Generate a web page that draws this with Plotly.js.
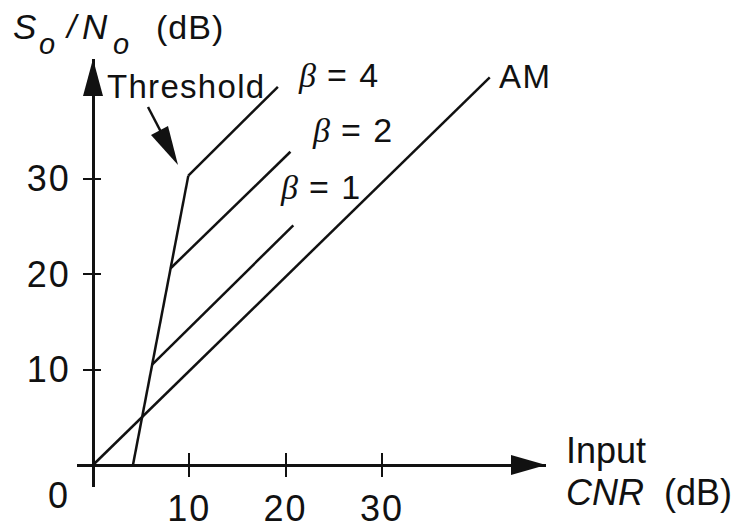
<!DOCTYPE html>
<html><head><meta charset="utf-8">
<script src="https://cdn.plot.ly/plotly-3.0.1.min.js"></script>
<style>html,body{margin:0;padding:0;background:#fff}#chart{width:737px;height:529px}</style>
</head><body><div id="chart"></div>
<script>
// ---- data (dB values) ----
const amX = [0, 41.2];
const amY = [0, 40.6];
const thresholdX = [4.15, 9.9];
const thresholdY = [0, 30.3];
const beta4X = [9.9, 19.2];
const beta4Y = [30.3, 39.6];
const beta2X = [8.06, 20.5];
const beta2Y = [20.6, 32.8];
const beta1X = [6.14, 20.8];
const beta1Y = [10.5, 25.1];
const xTickVals = [10, 20, 30];
const xTickText = ['10', '20', '30'];
const yTickVals = [10, 20, 30];
const yTickText = ['10', '20', '30'];

// ---- geometry ----
const W = 737, H = 529;
const L = 77, R = 546, T = 59, B = 487;
const X0 = 93, Y0 = 465, SX = 9.63, SY = 9.55;
const xRange = [(L - X0) / SX, (R - X0) / SX];
const yRange = [(Y0 - B) / SY, (Y0 - T) / SY];
function px(p) { return (p - X0) / SX; }
function py(p) { return (Y0 - p) / SY; }
function qx(p) { return (p - L) / (R - L); }
function qy(p) { return (B - p) / (B - T); }

const INK = '#111';
const FONT = 'Liberation Sans, Arial, sans-serif';
const LW = 2.5;
function spaced(t, s) { return '<span style="letter-spacing:' + s + 'px">' + t + '</span>'; }

function lineTrace(x, y) {
  return {x: x, y: y, mode: 'lines', line: {color: INK, width: LW}, hoverinfo: 'skip', showlegend: false};
}
const traces = [
  lineTrace(amX, amY),
  lineTrace(thresholdX, thresholdY),
  lineTrace(beta4X, beta4Y),
  lineTrace(beta2X, beta2Y),
  lineTrace(beta1X, beta1Y),
  {x: [amX[0]], y: [amY[0]], xaxis: 'x2', yaxis: 'y2', mode: 'markers', marker: {opacity: 0}, hoverinfo: 'skip', showlegend: false}
];

const tickFont = {family: FONT, size: 36, color: INK};
const xPos = (B - Y0) / (B - T);
const yPos = (X0 - L) / (R - L);

function ann(text, xpix, ypix, xanchor, yanchor, size) {
  return {text: text, xref: 'paper', yref: 'paper', x: qx(xpix), y: qy(ypix),
    xanchor: xanchor, yanchor: yanchor, showarrow: false, borderpad: 0,
    font: {family: FONT, size: size || 33, color: INK}};
}
const betaSym = "<span style=\"font-family:'Liberation Serif', 'Times New Roman', serif\"><i>β</i></span>";

const layout = {
  width: W, height: H,
  margin: {l: L, r: W - R, t: T, b: H - B, pad: 0},
  paper_bgcolor: '#fff', plot_bgcolor: 'rgba(0,0,0,0)',
  showlegend: false,
  xaxis: {domain: [0, 1], range: xRange, anchor: 'free', position: xPos,
    showline: true, linecolor: INK, linewidth: LW, showgrid: false, zeroline: false,
    ticks: 'outside', ticklen: 10, tickwidth: 2, tickcolor: INK,
    tickmode: 'array', tickvals: xTickVals, ticktext: xTickText.map(t => spaced(t, 2)), tickfont: tickFont,
    ticklabelstandoff: 1, fixedrange: true},
  xaxis2: {overlaying: 'x', range: xRange, anchor: 'free', position: xPos, side: 'bottom',
    showline: false, showgrid: false, zeroline: false,
    ticks: 'inside', ticklen: 12, tickwidth: 2, tickcolor: INK,
    tickmode: 'array', tickvals: xTickVals, showticklabels: false, fixedrange: true},
  yaxis: {domain: [0, 1], range: yRange, anchor: 'free', position: yPos,
    showline: true, linecolor: INK, linewidth: LW, showgrid: false, zeroline: false,
    ticks: 'outside', ticklen: 9, tickwidth: 2, tickcolor: INK,
    tickmode: 'array', tickvals: yTickVals, ticktext: yTickText.map(t => spaced(t, 2)), tickfont: tickFont,
    ticklabelstandoff: 5, fixedrange: true},
  yaxis2: {overlaying: 'y', range: yRange, anchor: 'free', position: yPos, side: 'left',
    showline: false, showgrid: false, zeroline: false,
    ticks: 'inside', ticklen: 7, tickwidth: 2, tickcolor: INK,
    tickmode: 'array', tickvals: yTickVals, showticklabels: false, fixedrange: true},
  shapes: [
    {type: 'path', xref: 'x', yref: 'y', xsizemode: 'pixel', ysizemode: 'pixel',
      xanchor: xRange[1], yanchor: 0, path: 'M0,0L-35,10L-35,-10Z',
      fillcolor: INK, line: {width: 0}},
    {type: 'path', xref: 'x', yref: 'y', xsizemode: 'pixel', ysizemode: 'pixel',
      xanchor: 0, yanchor: yRange[1], path: 'M0,0L-10,-37L10,-37Z',
      fillcolor: INK, line: {width: 0}},
    {type: 'path', xref: 'x', yref: 'y', xsizemode: 'pixel', ysizemode: 'pixel',
      xanchor: px(178), yanchor: py(165), path: 'M-30,58L-17,33',
      line: {color: INK, width: 2.5}},
    {type: 'path', xref: 'x', yref: 'y', xsizemode: 'pixel', ysizemode: 'pixel',
      xanchor: px(178), yanchor: py(165), path: 'M0,0L-10,39L-27,30Z',
      fillcolor: INK, line: {width: 0}}
  ],
  annotations: [
    // y-axis title  S_o / N_o (dB)
    ann('<i>S</i>', 12, 26, 'left', 'middle', 35),
    ann('<i>o</i>', 38, 44, 'left', 'middle', 29),
    ann('<i>/</i>', 64, 26, 'left', 'middle', 33),
    ann('<i>N</i>', 81, 26, 'left', 'middle', 35),
    ann('<i>o</i>', 112, 44, 'left', 'middle', 29),
    ann(spaced('(dB)', 1), 155, 27, 'left', 'middle', 34),
    // curve labels
    ann(spaced('Threshold', 1.3), 106, 86, 'left', 'middle'),
    ann(betaSym + spaced(' = 4', 1.5), 297, 75, 'left', 'middle', 34),
    ann(betaSym + spaced(' = 2', 1.5), 311, 130, 'left', 'middle', 34),
    ann(betaSym + spaced(' = 1', 1.5), 279, 187, 'left', 'middle', 34),
    ann(spaced('AM', 1.5), 498, 76, 'left', 'middle'),
    // x-axis title
    ann('Input', 565, 450, 'left', 'middle', 36),
    ann('<i>CNR</i>\u00a0\u00a0(dB)', 565, 492, 'left', 'middle', 36),
    // origin
    ann('0', 69, 495, 'right', 'middle', 36)
  ]
};

Plotly.newPlot('chart', traces, layout, {staticPlot: true, displayModeBar: false});
</script>
</body></html>
